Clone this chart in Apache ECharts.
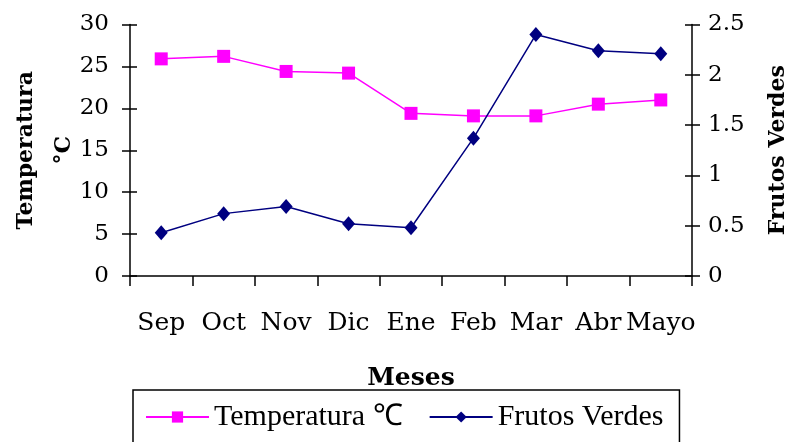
<!DOCTYPE html>
<html>
<head>
<meta charset="utf-8">
<script src="https://cdn.jsdelivr.net/npm/echarts@6/dist/echarts.min.js"></script>
<style>html,body{margin:0;padding:0;background:#fff;}#c{width:787px;height:442px;}</style>
</head>
<body>
<div id="c"></div>
<script>
const months = ['Sep','Oct','Nov','Dic','Ene','Feb','Mar','Abr','Mayo'];
const temperatura = [25.9, 26.2, 24.4, 24.2, 19.4, 19.1, 19.1, 20.5, 21.0];
const frutosVerdes = [0.43, 0.62, 0.69, 0.52, 0.48, 1.37, 2.40, 2.24, 2.21];
const tempTicks = {min: 0, max: 30, interval: 5};
const frutosTicks = {min: 0, max: 2.5, interval: 0.5};

const chart = echarts.init(document.getElementById('c'), null, {renderer: 'canvas'});
const serif = 'DejaVu Serif';
const axisLineStyle = {color: '#000', width: 1.5};
chart.setOption({
  animation: false,
  backgroundColor: '#fff',
  grid: {left: 130, right: 95, top: 24.5, bottom: 166, containLabel: false, outerBoundsMode: 'none'},
  legend: {
    left: 133, top: 390,
    padding: [12, 16, 12, 12],
    borderColor: '#000', borderWidth: 1.5,
    itemWidth: 63, itemHeight: 14, itemGap: 26,
    textStyle: {fontFamily: 'Liberation Serif', fontSize: 30, color: '#000'},
    data: ['Temperatura ℃', 'Frutos Verdes']
  },
  xAxis: {
    type: 'category', data: months, boundaryGap: true,
    name: 'Meses', nameLocation: 'middle', nameGap: 90, nameMoveOverlap: false,
    nameTextStyle: {fontFamily: serif, fontWeight: 'bold', fontSize: 25, color: '#000'},
    axisLine: {lineStyle: axisLineStyle},
    axisTick: {show: true, length: 10, lineStyle: axisLineStyle},
    axisLabel: {fontFamily: serif, fontSize: 25, color: '#000', margin: 35, interval: 0},
    splitLine: {show: false}
  },
  yAxis: [
    {type: 'value', position: 'left', min: tempTicks.min, max: tempTicks.max, interval: tempTicks.interval,
     name: 'Temperatura\n°C', nameLocation: 'middle', nameRotate: 90, nameGap: 47, nameMoveOverlap: false,
     nameTextStyle: {fontFamily: serif, fontWeight: 'bold', fontSize: 22, color: '#000', lineHeight: 38},
     axisLine: {show: true, lineStyle: axisLineStyle},
     axisTick: {show: true, length: 8, lineStyle: axisLineStyle},
     axisLabel: {fontFamily: serif, fontSize: 23, color: '#000', margin: 21},
     splitLine: {show: false}},
    {type: 'value', position: 'right', min: frutosTicks.min, max: frutosTicks.max, interval: frutosTicks.interval,
     name: 'Frutos Verdes', nameLocation: 'middle', nameRotate: 90, nameGap: 75, nameMoveOverlap: false,
     nameTextStyle: {fontFamily: serif, fontWeight: 'bold', fontSize: 22, color: '#000'},
     axisLine: {show: true, lineStyle: axisLineStyle},
     axisTick: {show: true, length: 8, lineStyle: axisLineStyle},
     axisLabel: {fontFamily: serif, fontSize: 23, color: '#000', margin: 16},
     splitLine: {show: false}},
    {type: 'value', position: 'left', min: tempTicks.min, max: tempTicks.max, interval: tempTicks.interval,
     axisLine: {show: false}, axisLabel: {show: false}, splitLine: {show: false},
     axisTick: {show: true, inside: true, length: 7, lineStyle: axisLineStyle}},
    {type: 'value', position: 'right', min: frutosTicks.min, max: frutosTicks.max, interval: frutosTicks.interval,
     axisLine: {show: false}, axisLabel: {show: false}, splitLine: {show: false},
     axisTick: {show: true, inside: true, length: 7, lineStyle: axisLineStyle}}
  ],
  series: [
    {name: 'Temperatura ℃', type: 'line', yAxisIndex: 0, data: temperatura,
     symbol: 'rect', symbolSize: 13,
     lineStyle: {color: '#FF00FF', width: 1.5},
     itemStyle: {color: '#FF00FF', borderWidth: 0}},
    {name: 'Frutos Verdes', type: 'line', yAxisIndex: 1, data: frutosVerdes,
     symbol: 'diamond', symbolSize: [13, 15],
     lineStyle: {color: '#000080', width: 1.5},
     itemStyle: {color: '#000080', borderWidth: 0}}
  ]
});
</script>
</body>
</html>
